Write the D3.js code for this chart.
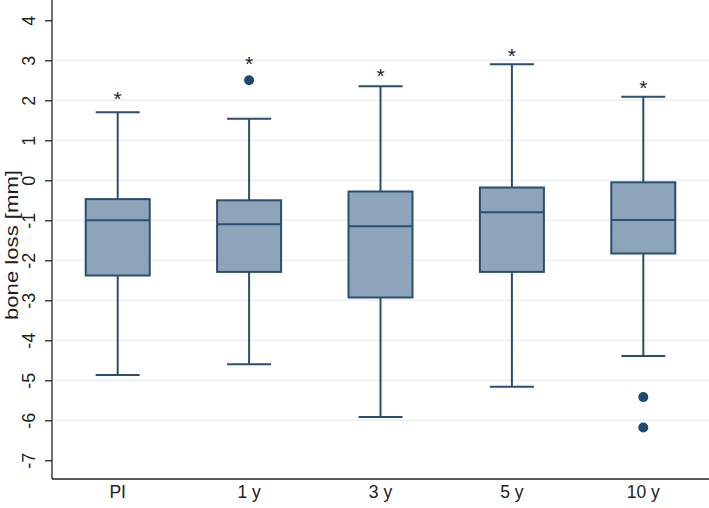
<!doctype html>
<html>
<head>
  <meta http-equiv="Content-Type" content="text/html; charset=UTF-8" />
  <title>bone loss</title>
  <script src="https://cdn.jsdelivr.net/npm/d3@7"></script>
  <style>
    body { margin: 0; background: #fff; }
    text { font-family: "Liberation Sans", Arial, sans-serif; fill: #222; }
  </style>
</head>
<body>
<div id="chart"></div>
<script>
  // data
  var categories = ["PI", "1 y", "3 y", "5 y", "10 y"];
  var whiskerHigh = [1.70, 1.54, 2.35, 2.90, 2.09];
  var q3 = [-0.47, -0.50, -0.28, -0.18, -0.05];
  var median = [-1.00, -1.10, -1.15, -0.80, -0.99];
  var q1 = [-2.38, -2.29, -2.93, -2.29, -1.83];
  var whiskerLow = [-4.87, -4.60, -5.92, -5.16, -4.39];
  var outliers = [[], [2.50], [], [], [-5.42, -6.18]];
  var stars = [2.13, 2.99, 2.70, 3.20, 2.40];
  var yTicks = [4, 3, 2, 1, 0, -1, -2, -3, -4, -5, -6, -7];

  var W = 709, H = 508;
  var m = {left: 52, right: 0, top: 0, bottom: 29};

  var svg = d3.select("#chart").append("svg")
      .attr("width", W).attr("height", H);

  var x = d3.scaleBand().domain(categories)
      .range([m.left, W - m.right]).paddingInner(0).paddingOuter(0);

  // 40px per mm, 0 at y=180.3
  var y = d3.scaleLinear().domain([4, -7]).range([20.3, 460.3]);

  // grid, not on the outer ticks
  svg.append("g").selectAll("line").data(yTicks.slice(1, -1)).enter().append("line")
      .attr("x1", m.left).attr("x2", W)
      .attr("y1", function(d) { return y(d); })
      .attr("y2", function(d) { return y(d); })
      .attr("stroke", "#ebeff3").attr("stroke-width", 1.5);

  // axes
  var yAxis = svg.append("g")
      .attr("transform", "translate(" + m.left + ",0)")
      .call(d3.axisLeft(y).tickValues(yTicks).tickSize(7).tickFormat(d3.format("d")));
  yAxis.select(".domain").attr("d", "M0,0V" + (H - m.bottom)).attr("stroke", "#222").attr("stroke-width", 1.3);
  yAxis.selectAll(".tick line").attr("stroke", "#222").attr("stroke-width", 1.3);
  yAxis.selectAll(".tick text")
      .attr("font-size", 18).attr("text-anchor", "middle")
      .attr("x", -23).attr("dy", "0.35em")
      .attr("transform", "rotate(-90,-23,0)")
      .text(function(d) { return d; });

  var xAxis = svg.append("g")
      .attr("transform", "translate(0," + (H - m.bottom) + ")")
      .call(d3.axisBottom(x).tickSize(0).tickPadding(7));
  xAxis.select(".domain").attr("stroke", "#222").attr("stroke-width", 1.3)
      .attr("d", "M" + m.left + ",0H" + W);
  xAxis.selectAll(".tick text").attr("font-size", 17.5);

  svg.append("text")
      .attr("transform", "translate(11,245) rotate(-90)")
      .attr("text-anchor", "middle").attr("dy", "0.35em")
      .attr("font-size", 19)
      .attr("textLength", 150).attr("lengthAdjust", "spacingAndGlyphs")
      .text("bone loss [mm]");

  var stroke = "#2a4e70", fill = "#8ea4ba";
  var boxW = 64, capW = 44;

  var g = svg.append("g").selectAll("g").data(categories).enter().append("g")
      .attr("transform", function(d) { return "translate(" + (x(d) + x.bandwidth() / 2) + ",0)"; });

  g.append("line").attr("x1", 0).attr("x2", 0)
      .attr("y1", function(d, i) { return y(whiskerHigh[i]); })
      .attr("y2", function(d, i) { return y(q3[i]); })
      .attr("stroke", stroke).attr("stroke-width", 2);
  g.append("line").attr("x1", 0).attr("x2", 0)
      .attr("y1", function(d, i) { return y(q1[i]); })
      .attr("y2", function(d, i) { return y(whiskerLow[i]); })
      .attr("stroke", stroke).attr("stroke-width", 2);
  g.append("line").attr("x1", -capW / 2).attr("x2", capW / 2)
      .attr("y1", function(d, i) { return y(whiskerHigh[i]); })
      .attr("y2", function(d, i) { return y(whiskerHigh[i]); })
      .attr("stroke", stroke).attr("stroke-width", 2);
  g.append("line").attr("x1", -capW / 2).attr("x2", capW / 2)
      .attr("y1", function(d, i) { return y(whiskerLow[i]); })
      .attr("y2", function(d, i) { return y(whiskerLow[i]); })
      .attr("stroke", stroke).attr("stroke-width", 2);

  g.append("rect")
      .attr("x", -boxW / 2).attr("width", boxW)
      .attr("y", function(d, i) { return y(q3[i]); })
      .attr("height", function(d, i) { return y(q1[i]) - y(q3[i]); })
      .attr("fill", fill).attr("stroke", stroke).attr("stroke-width", 2);
  g.append("line").attr("x1", -boxW / 2).attr("x2", boxW / 2)
      .attr("y1", function(d, i) { return y(median[i]); })
      .attr("y2", function(d, i) { return y(median[i]); })
      .attr("stroke", stroke).attr("stroke-width", 2);

  g.selectAll("circle").data(function(d, i) { return outliers[i]; }).enter().append("circle")
      .attr("cx", 0).attr("cy", function(v) { return y(v); }).attr("r", 5)
      .attr("fill", "#1c4a72");

  g.append("text")
      .attr("x", 0).attr("y", function(d, i) { return y(stars[i]); })
      .attr("dy", "0.5em").attr("text-anchor", "middle")
      .attr("font-size", 21).attr("fill", "#111")
      .text("*");
</script>
</body>
</html>
